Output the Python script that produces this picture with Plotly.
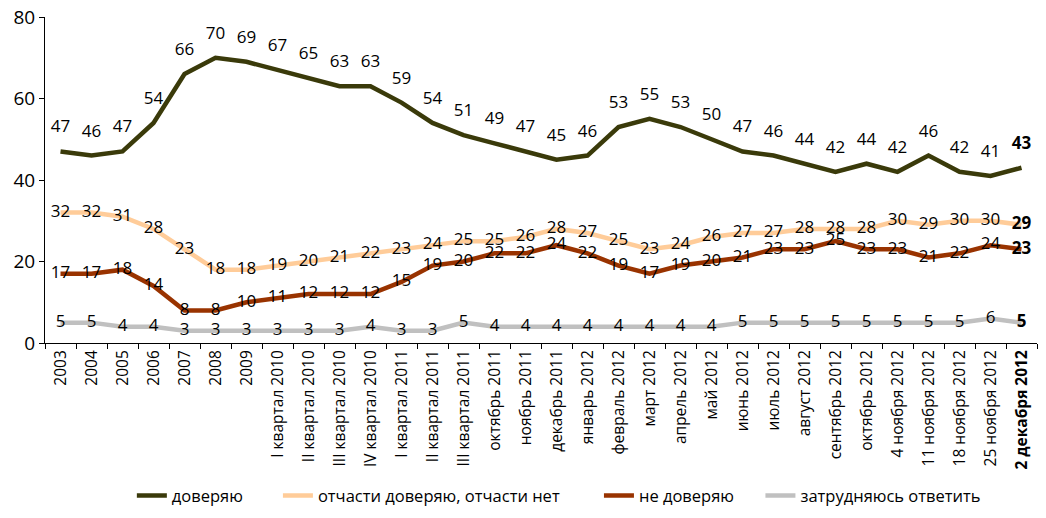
import plotly.graph_objects as go

categories = ["2003", "2004", "2005", "2006", "2007", "2008", "2009",
              "I квартал 2010", "II квартал 2010", "III квартал 2010", "IV квартал 2010",
              "I квартал 2011", "II квартал 2011", "III квартал 2011",
              "октябрь 2011", "ноябрь 2011", "декабрь 2011",
              "январь 2012", "февраль 2012", "март 2012", "апрель 2012", "май 2012",
              "июнь 2012", "июль 2012", "август 2012", "сентябрь 2012", "октябрь 2012",
              "4 ноября 2012", "11 ноября 2012", "18 ноября 2012", "25 ноября 2012",
              "2 декабря 2012"]

trust = [47, 46, 47, 54, 66, 70, 69, 67, 65, 63, 63, 59, 54, 51, 49, 47, 45, 46, 53, 55,
         53, 50, 47, 46, 44, 42, 44, 42, 46, 42, 41, 43]
partial = [32, 32, 31, 28, 23, 18, 18, 19, 20, 21, 22, 23, 24, 25, 25, 26, 28, 27, 25, 23,
           24, 26, 27, 27, 28, 28, 28, 30, 29, 30, 30, 29]
distrust = [17, 17, 18, 14, 8, 8, 10, 11, 12, 12, 12, 15, 19, 20, 22, 22, 24, 22, 19, 17,
            19, 20, 21, 23, 23, 25, 23, 23, 21, 22, 24, 23]
hard = [5, 5, 4, 4, 3, 3, 3, 3, 3, 3, 4, 3, 3, 5, 4, 4, 4, 4, 4, 4,
        4, 4, 5, 5, 5, 5, 5, 5, 5, 5, 6, 5]

names = ["доверяю", "отчасти доверяю, отчасти нет", "не доверяю", "затрудняюсь ответить"]
colors = ["#3a3a0a", "#ffcc99", "#993300", "#c0c0c0"]
legend_pad = [7, 8, 5, 0]

FONT = "Open Sans, DejaVu Sans, sans-serif"


def labels(vals):
    t = [str(v) for v in vals]
    t[-1] = "<b>%d</b>" % vals[-1]
    return t


fig = go.Figure()
series = [trust, partial, distrust, hard]
for i, (vals, name, col) in enumerate(zip(series, names, colors)):
    shown = name + "\u00a0" * legend_pad[i]
    if i == 0:
        fig.add_trace(go.Scatter(
            x=categories, y=vals, name=shown, mode="lines+markers+text",
            line=dict(color=col, width=4.5),
            marker=dict(size=22, color="rgba(0,0,0,0)"),
            text=labels(vals), textposition="top center",
            textfont=dict(family=FONT, size=17, color="black"),
        ))
    else:
        fig.add_trace(go.Scatter(
            x=categories, y=vals, name=shown, mode="lines+text",
            line=dict(color=col, width=4.5),
            text=labels(vals), textposition="middle center",
            textfont=dict(family=FONT, size=17, color="black"),
        ))

ticktext = categories[:-1] + ["<b>" + categories[-1] + "</b>"]

fig.update_layout(
    width=1038, height=510,
    margin=dict(l=37, r=9, t=9, b=175, autoexpand=False),
    plot_bgcolor="white", paper_bgcolor="white",
    showlegend=True,
    legend=dict(orientation="h", x=0.518, xanchor="center", y=-0.415, yanchor="top",
                font=dict(family=FONT, size=16.5, color="black"),
                itemwidth=30),
    xaxis=dict(
        type="category", tickmode="array", tickvals=categories, ticktext=ticktext,
        tickangle=-90, tickson="boundaries", ticks="outside", ticklen=5,
        tickcolor="black", showline=True, linecolor="black", linewidth=1,
        showgrid=False, range=[-0.5, 31.5], automargin=False,
        ticklabeloverflow="allow",
        tickfont=dict(family=FONT, size=15.5, color="black"),
    ),
    yaxis=dict(
        range=[0, 80], tickvals=[0, 20, 40, 60, 80], ticks="outside", ticklen=5,
        tickcolor="black", showline=True, linecolor="black", linewidth=1,
        showgrid=False, zeroline=False, automargin=False,
        ticklabeloverflow="allow",
        tickfont=dict(family=FONT, size=19, color="black"),
    ),
)

fig.write_html("out.html")
